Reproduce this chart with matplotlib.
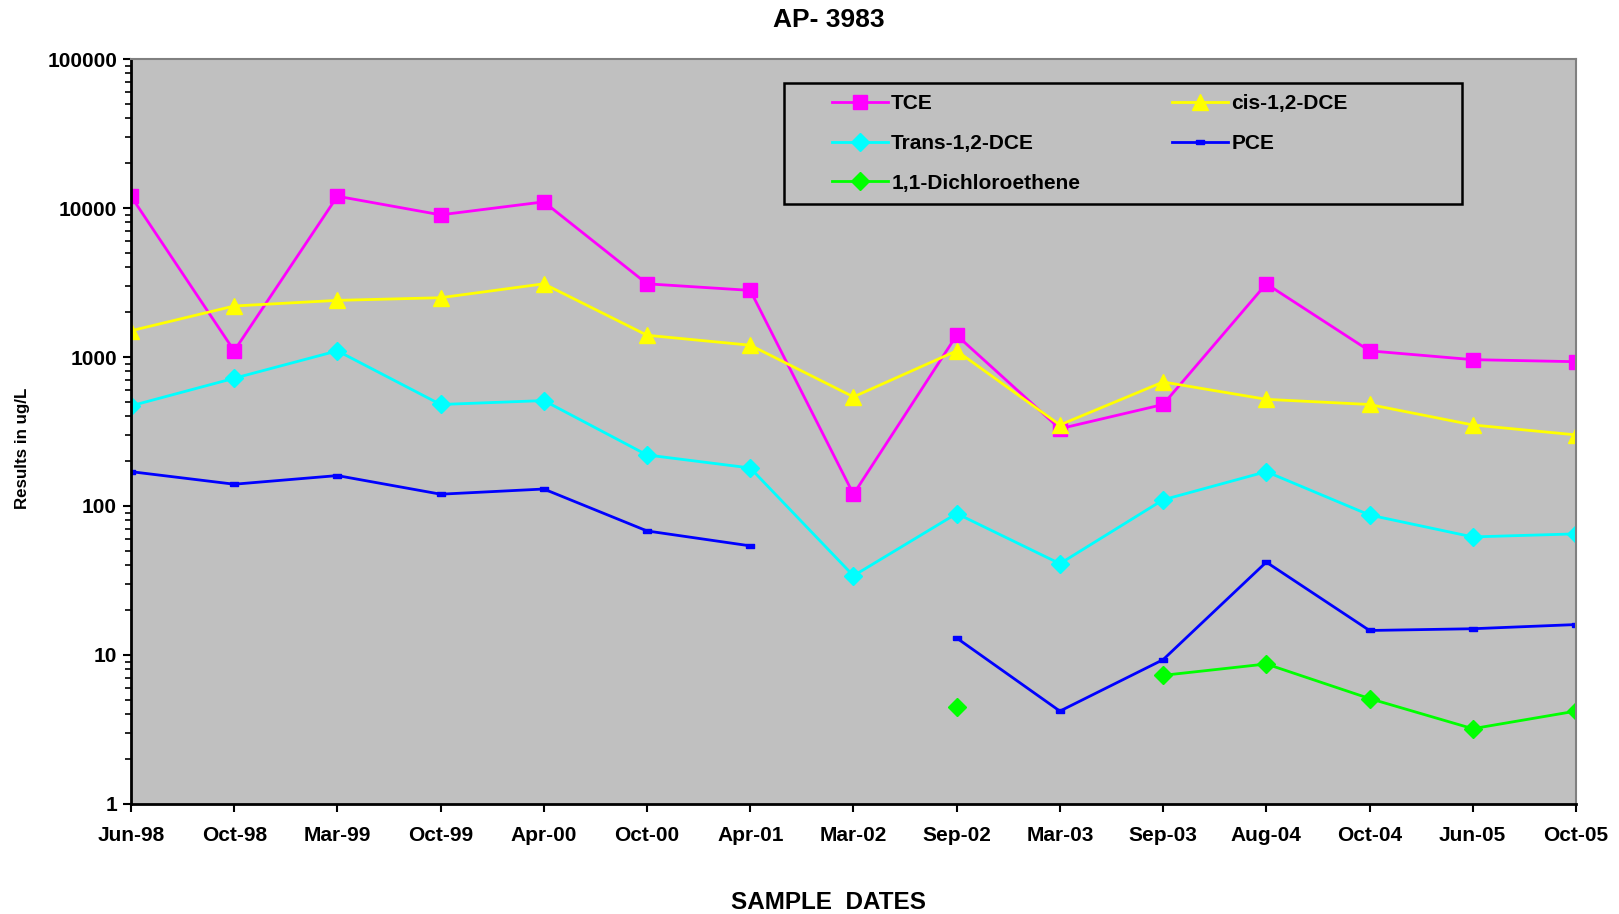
import numpy as np
import matplotlib
matplotlib.use("Agg")
import matplotlib.pyplot as plt
from matplotlib.patches import Rectangle
from matplotlib.ticker import LogLocator, NullFormatter, FixedLocator, FixedFormatter

nan = np.nan
dates = ["Jun-98", "Oct-98", "Mar-99", "Oct-99", "Apr-00", "Oct-00", "Apr-01",
         "Mar-02", "Sep-02", "Mar-03", "Sep-03", "Aug-04", "Oct-04", "Jun-05", "Oct-05"]
tce = [12000, 1100, 12000, 9000, 11000, 3100, 2800, 120, 1400, 330, 480, 3100, 1100, 960, 930]
cis_dce = [1500, 2200, 2400, 2500, 3100, 1400, 1200, 540, 1100, 350, 680, 520, 480, 350, 300]
trans_dce = [470, 720, 1100, 480, 510, 220, 180, 34, 89, 41, 110, 170, 87, 62, 65]
pce = [170, 140, 160, 120, 130, 68, 54, nan, 13, 4.2, 9.3, 42, 14.6, 15, 16]
dce11 = [nan, nan, nan, nan, nan, nan, nan, nan, 4.5, nan, 7.3, 8.7, 5.1, 3.2, 4.2]
yticks = [1, 10, 100, 1000, 10000, 100000]
ytick_labels = ["1", "10", "100", "1000", "10000", "100000"]

plt.rcParams['font.family'] = ['Liberation Sans', 'DejaVu Sans']

fig = plt.figure(figsize=(16.19, 9.14), dpi=100)
ax = fig.add_axes([0.0809, 0.1204, 0.8925, 0.815])
ax.set_facecolor('#C0C0C0')

x = np.arange(len(dates))
lw = 2.0
l_tce, = ax.plot(x, tce, color='#FF00FF', lw=lw, marker='s', ms=10.5, mec='#FF00FF', label='TCE')
l_cis, = ax.plot(x, cis_dce, color='#FFFF00', lw=lw, marker='^', ms=11, mec='#FFFF00', label='cis-1,2-DCE')
l_tr, = ax.plot(x, trans_dce, color='#00FFFF', lw=lw, marker='D', ms=9, mec='#00FFFF', label='Trans-1,2-DCE')
rect = [(-1, -0.5), (1, -0.5), (1, 0.5), (-1, 0.5), (-1, -0.5)]
l_pce, = ax.plot(x, pce, color='#0000FF', lw=lw, marker=rect, ms=6, mec='#0000FF', label='PCE')
l_11, = ax.plot(x, dce11, color='#00FF00', lw=lw, marker='D', ms=9, mec='#00FF00', label='1,1-Dichloroethene')

ax.set_yscale('log')
ax.set_ylim(1, 100000)
ax.set_xlim(0, len(dates) - 1)
ax.yaxis.set_major_locator(FixedLocator(yticks))
ax.yaxis.set_major_formatter(FixedFormatter(ytick_labels))
ax.yaxis.set_minor_locator(LogLocator(base=10, subs=np.arange(2, 10), numticks=20))
ax.yaxis.set_minor_formatter(NullFormatter())
ax.set_xticks(x)
ax.set_xticklabels(dates)

for s in ['left', 'bottom']:
    ax.spines[s].set_color('black')
    ax.spines[s].set_linewidth(2)
for s in ['top', 'right']:
    ax.spines[s].set_color('#808080')
    ax.spines[s].set_linewidth(1.5)

ax.tick_params(axis='both', which='major', direction='out', length=6, width=1.5,
               labelsize=15, pad=4)
ax.tick_params(axis='y', which='minor', direction='out', length=4, width=1.2)
ax.tick_params(axis='x', pad=10)
for lab in ax.get_xticklabels() + ax.get_yticklabels():
    lab.set_fontweight('bold')

fig.text(0.512, 0.978, 'AP- 3983', ha='center', va='center', fontsize=19, fontweight='bold')
fig.text(0.512, 0.013, 'SAMPLE  DATES', ha='center', va='center', fontsize=17.5, fontweight='bold')
fig.text(0.0142, 0.51, 'Results in ug/L', ha='center', va='center', rotation=90,
         fontsize=12.2, fontweight='bold')

# legend frame
ax.add_patch(Rectangle((0.452, 0.805), 0.469, 0.163, transform=ax.transAxes,
                       fill=False, edgecolor='black', lw=1.8, zorder=5))
handles = [l_tce, l_tr, l_11, l_cis, l_pce]
leg = ax.legend(handles=handles, labels=[h.get_label() for h in handles], ncol=2,
                loc='upper left', bbox_to_anchor=(0.485, 0.953), prop={'size': 15, 'weight': 'bold'},
                frameon=False, handlelength=2.7, handletextpad=0.15,
                columnspacing=4.4, labelspacing=1.0, borderpad=0, borderaxespad=0)

fig.savefig('out.png', dpi=100, facecolor='white')
